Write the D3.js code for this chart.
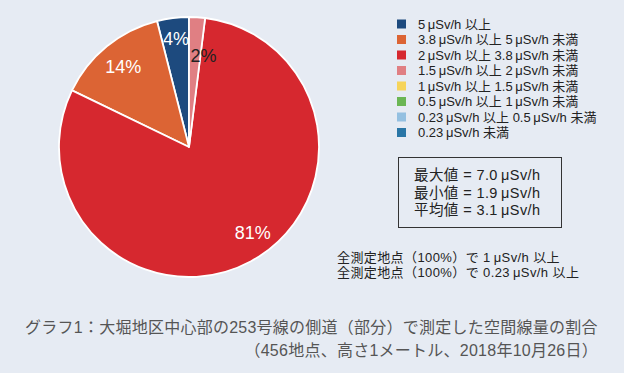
<!DOCTYPE html>
<html>
<head>
<meta charset="utf-8">
<script src="https://cdn.jsdelivr.net/npm/d3@7"></script>
<style>
  body { margin: 0; background: #e6ebf3; }
  text { font-family: "Liberation Sans", "Noto Sans CJK JP", sans-serif; }
</style>
</head>
<body>
<script>
const m = { width: 624, height: 373 }

// legend order, values are the shown percentages
const categories = [
    '5μSv/h 以上',
    '3.8μSv/h 以上 5μSv/h 未満',
    '2μSv/h 以上 3.8μSv/h 未満',
    '1.5μSv/h 以上 2μSv/h 未満',
    '1μSv/h 以上 1.5μSv/h 未満',
    '0.5μSv/h 以上 1μSv/h 未満',
    '0.23μSv/h 以上 0.5μSv/h 未満',
    '0.23μSv/h 未満'
]
const percents = [4, 14, 81, 2, 0, 0, 0, 0]
const colors = ['#1d4a7e', '#dc6434', '#d6282f', '#e07f83', '#f6d45a', '#6bb654', '#94c0e1', '#2a76a6']
const labelColors = ['#fff', '#fff', '#fff', '#222', '#222', '#222', '#222', '#222']

const statLines = ['最大値 = 7.0μSv/h', '最小値 = 1.9μSv/h', '平均値 = 3.1μSv/h']
const notes = ['全測定地点（100%）で 1μSv/h 以上', '全測定地点（100%）で 0.23μSv/h 以上']
const title1 = 'グラフ1：大堀地区中心部の253号線の側道（部分）で測定した空間線量の割合'
const title2 = '（456地点、高さ1メートル、2018年10月26日）'

// a thin gap before the mu, as in the original typesetting
const mu = s => s.replace(/μ/g, '\u2009μ')

const svg = d3.select('body').append('svg')
    .attr('width', m.width)
    .attr('height', m.height)

svg.append('rect')
    .attr('width', m.width)
    .attr('height', m.height)
    .attr('fill', '#e6ebf3')

const rows = categories.map((c, i) => ({ name: c, value: percents[i], color: colors[i], lc: labelColors[i] }))

// pie, drawn counterclockwise from 12 o'clock
const r = 130
const g = svg.append('g').attr('transform', 'translate(189,147)')

const pie = d3.pie()
    .sort(null)
    .value(d => d.value)
    .startAngle(0)
    .endAngle(-2 * Math.PI)

const arc = d3.arc().innerRadius(0).outerRadius(r)
const labelArc = d3.arc().innerRadius(r * 0.8).outerRadius(r * 0.8)

const arcs = pie(rows).filter(d => d.data.value > 0)

g.selectAll('path')
    .data(arcs)
    .enter()
    .append('path')
    .attr('d', arc)
    .attr('fill', d => d.data.color)
    .attr('stroke', '#fff')
    .attr('stroke-width', 1.8)
    .attr('stroke-linejoin', 'round')

g.selectAll('.lbl')
    .data(arcs)
    .enter()
    .append('text')
    .attr('class', 'lbl')
    .attr('transform', d => {
        let c = labelArc.centroid(d)
        // small slices: labels pushed around a little, like the original
        if (d.data.value < 3) c = [c[0] + 8, c[1] + 12]
        else if (d.data.value < 10) c = [c[0], c[1] - 5]
        // big slice: label sits a bit further round
        if (d.data.value > 50) c = [c[0] + 14, c[1] - 6]
        return 'translate(' + c + ')'
    })
    .attr('text-anchor', 'middle')
    .attr('dy', '0.36em')
    .attr('font-size', 18)
    .attr('fill', d => d.data.lc)
    .text(d => d.data.value + '%')

// legend
const legend = svg.append('g').attr('transform', 'translate(397,24)')
const ly = d3.scaleBand().domain(categories).range([0, 15.5 * categories.length])

const item = legend.selectAll('g')
    .data(rows)
    .enter()
    .append('g')
    .attr('transform', d => 'translate(0,' + ly(d.name) + ')')

item.append('rect')
    .attr('x', 0)
    .attr('y', -4.5)
    .attr('width', 9)
    .attr('height', 9)
    .attr('fill', d => d.color)

item.append('text')
    .attr('x', 21)
    .attr('dy', '0.36em')
    .attr('font-size', 13)
    .attr('fill', '#222')
    .text(d => mu(d.name))

// stats box
svg.append('rect')
    .attr('x', 398.5)
    .attr('y', 157.5)
    .attr('width', 163)
    .attr('height', 70)
    .attr('fill', 'none')
    .attr('stroke', '#333')
    .attr('stroke-width', 1)

svg.selectAll('.stat')
    .data(statLines)
    .enter()
    .append('text')
    .attr('class', 'stat')
    .attr('x', 414)
    .attr('y', (d, i) => 175 + i * 17.5)
    .attr('dy', '0.36em')
    .attr('font-size', 14.5)
    .attr('letter-spacing', 0.4)
    .attr('fill', '#222')
    .text(d => mu(d))

svg.selectAll('.note')
    .data(notes)
    .enter()
    .append('text')
    .attr('class', 'note')
    .attr('x', 337)
    .attr('y', (d, i) => 257 + i * 15.5)
    .attr('dy', '0.36em')
    .attr('font-size', 13)
    .attr('letter-spacing', 0.4)
    .attr('fill', '#222')
    .text(d => mu(d))

// caption
svg.append('text')
    .attr('x', 25)
    .attr('y', 327)
    .attr('dy', '0.36em')
    .attr('font-size', 16)
    .attr('letter-spacing', 0.25)
    .attr('fill', '#555')
    .text(title1)

svg.append('text')
    .attr('x', 598)
    .attr('y', 350)
    .attr('dy', '0.36em')
    .attr('text-anchor', 'end')
    .attr('font-size', 16)
    .attr('letter-spacing', 0.25)
    .attr('fill', '#555')
    .text(title2)
</script>
</body>
</html>
